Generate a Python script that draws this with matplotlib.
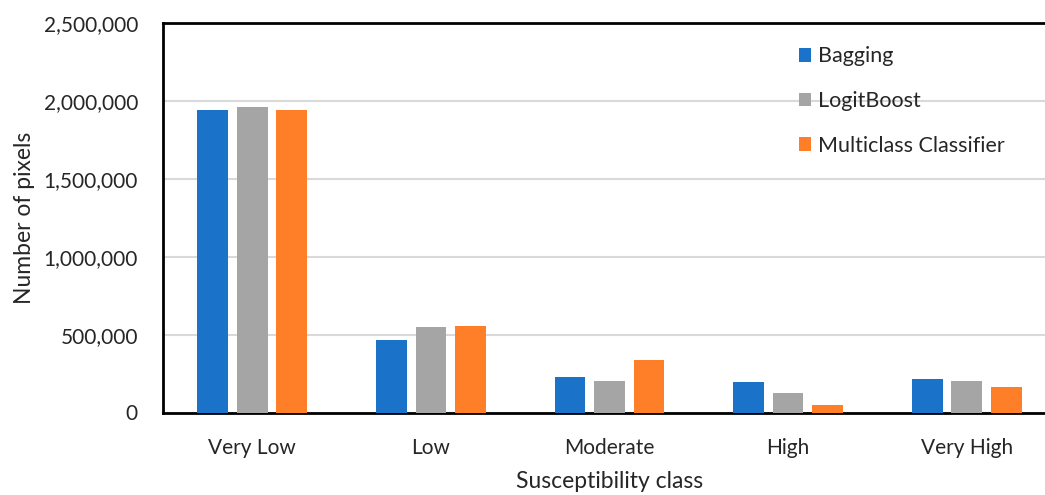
import matplotlib
matplotlib.use("Agg")
import matplotlib.pyplot as plt
import numpy as np
from matplotlib.ticker import FuncFormatter, MultipleLocator

categories = ["Very Low", "Low", "Moderate", "High", "Very High"]
bagging = [1942000, 466000, 229000, 195000, 212000]
logitboost = [1963000, 550000, 203000, 128000, 203000]
multiclass = [1942000, 558000, 336000, 47000, 163000]
series_names = ["Bagging", "LogitBoost", "Multiclass Classifier"]
colors = ["#1a73c8", "#a5a5a5", "#fe7f27"]

plt.rcParams["font.family"] = ["Lato", "DejaVu Sans"]
text_color = "#262626"

fig = plt.figure(figsize=(10.45, 4.95), dpi=100)
ax = fig.add_axes([163 / 1045, 1 - 412.5 / 495, 893 / 1045, 389.5 / 495])

x = np.arange(len(categories))
width = 0.172
step = 0.221
for i, (vals, name, c) in enumerate(zip([bagging, logitboost, multiclass], series_names, colors)):
    ax.bar(x + (i - 1) * step, vals, width, color=c, label=name, zorder=3)

ax.set_xlim(-0.5, len(categories) - 0.5)
ax.set_ylim(0, 2500000)
ax.yaxis.set_major_locator(MultipleLocator(500000))
ax.yaxis.set_major_formatter(FuncFormatter(lambda v, p: f"{int(v):,}"))
ax.set_xticks(x)
ax.set_xticklabels(categories)

ax.grid(axis="y", color="#d9d9d9", linewidth=1.5, zorder=0)
ax.set_axisbelow(True)
for side in ["left", "top", "bottom"]:
    ax.spines[side].set_color("black")
    ax.spines[side].set_linewidth(2)
ax.spines["right"].set_visible(False)

ax.tick_params(axis="both", length=0, labelsize=15, colors=text_color)
ax.tick_params(axis="y", pad=18)
ax.tick_params(axis="x", pad=18)

ax.set_xlabel("Susceptibility class", fontsize=16.5, color=text_color, labelpad=10)
ax.set_ylabel("Number of pixels", fontsize=16.5, color=text_color, labelpad=6)

leg = ax.legend(loc="upper left", bbox_to_anchor=(0.69, 0.99), frameon=False,
                fontsize=15.5, labelspacing=1.15, handlelength=0.6, handleheight=0.6,
                handletextpad=0.3, labelcolor=text_color)

fig.savefig("out.png", dpi=100)
